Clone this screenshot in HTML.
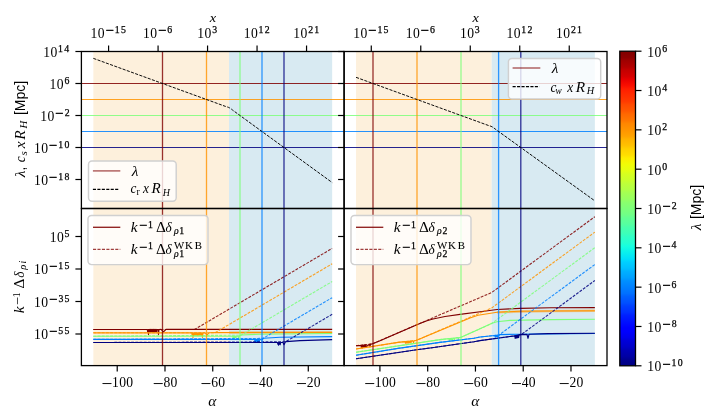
<!DOCTYPE html>
<html><head><meta charset="utf-8"><style>
html,body{margin:0;padding:0;background:#fff;}
svg{display:block;}
</style></head><body>
<svg width="715" height="420" viewBox="0 0 715 420">
<rect width="715" height="420" fill="#fff"/>
<rect x="93.34" y="51.5" width="135.65" height="157" fill="rgb(253,240,220)"/>
<rect x="228.99" y="51.5" width="103.17" height="157" fill="rgb(216,234,242)"/>
<rect x="93.34" y="208.5" width="135.65" height="157.1" fill="rgb(253,240,220)"/>
<rect x="228.99" y="208.5" width="103.17" height="157.1" fill="rgb(216,234,242)"/>
<rect x="356.04" y="51.5" width="135.65" height="157" fill="rgb(253,240,220)"/>
<rect x="491.69" y="51.5" width="103.17" height="157" fill="rgb(216,234,242)"/>
<rect x="356.04" y="208.5" width="135.65" height="157.1" fill="rgb(253,240,220)"/>
<rect x="491.69" y="208.5" width="103.17" height="157.1" fill="rgb(216,234,242)"/>
<line x1="81.4" y1="83.5" x2="607" y2="83.5" stroke="rgb(128,0,0)" stroke-width="1.2" stroke-opacity="0.85"/>
<line x1="81.4" y1="99.5" x2="607" y2="99.5" stroke="rgb(255,148,0)" stroke-width="1.2" stroke-opacity="0.85"/>
<line x1="81.4" y1="115.5" x2="607" y2="115.5" stroke="rgb(125,255,122)" stroke-width="1.2" stroke-opacity="0.85"/>
<line x1="81.4" y1="131.5" x2="607" y2="131.5" stroke="rgb(0,128,255)" stroke-width="1.2" stroke-opacity="0.85"/>
<line x1="81.4" y1="147.5" x2="607" y2="147.5" stroke="rgb(0,0,128)" stroke-width="1.2" stroke-opacity="0.85"/>
<polyline points="93.34,329.5 147.3,329.45 147.6,331.75 147.9,329.45 148,329.45 148.2,331.75 148.5,334.45 148.5,329.45 148.8,331.75 149,329.45 149.1,329.45 149.4,331.75 149.7,329.45 150,331.75 150.3,329.45 150.6,331.75 150.9,329.45 151.2,331.75 151.5,329.45 151.8,331.75 152.1,329.45 152.4,331.75 152.7,329.45 153,331.75 153.3,329.45 153.6,331.75 153.9,329.45 154.2,331.75 154.5,329.45 154.8,331.75 155.1,329.45 155.4,331.75 155.7,329.45 156,331.75 156.3,329.45 156.6,331.75 156.9,329.45 158,329.45 158.5,334.45 159,329.45 161,329.44 163.5,331.94 166,329.44 332.16,329.3" fill="none" stroke="rgb(128,0,0)" stroke-width="1.15" stroke-linejoin="round" />
<polyline points="93.34,332.8 191.8,332.8 192.1,335.1 192.4,332.8 192.5,332.8 192.7,335.1 193,337.6 193,332.8 193.3,335.1 193.5,332.8 193.6,332.8 193.9,335.1 194.2,332.8 194.5,335.1 194.8,332.8 195.1,335.1 195.4,332.8 195.7,335.1 196,332.8 196.3,335.1 196.6,332.8 196.9,335.1 197.2,332.8 197.5,335.1 197.8,332.8 198.1,335.1 198.4,332.8 198.7,335.1 199,332.8 199.3,335.1 199.6,332.8 199.9,335.1 200.2,332.8 200.5,335.1 200.8,332.8 201.1,335.1 201.4,332.8 201.7,335.1 202,332.8 202,332.8 202.5,337.4 203,332.8 205,332.8 207,334.8 209,332.8 209,332.8 216,332.6 332.16,332.4" fill="none" stroke="rgb(255,148,0)" stroke-width="1.15" stroke-linejoin="round" />
<polyline points="229,332.6 332.16,332.4" fill="none" stroke="rgb(255,148,0)" stroke-width="2.4" stroke-linejoin="round" stroke-opacity="0.45"/>
<polyline points="93.34,336.2 232.7,336.2 233,337.5 233.3,336.2 233.5,336.2 233.6,337.5 233.9,336.2 234,338.4 234.2,337.5 234.5,336.2 234.5,336.2 234.8,337.5 235.1,336.2 235.4,337.5 235.7,336.2 236,337.5 236.3,336.2 237,336.2 238,336.2 238.5,337.5 240,335.4 241,335 260,334.2 332.16,333.5" fill="none" stroke="rgb(125,255,122)" stroke-width="1.15" stroke-linejoin="round" />
<polyline points="93.34,339.4 254.6,339.4 254.9,341.8 255,339.4 255.2,339.4 255.5,342.4 255.5,341.8 255.8,339.4 256,339.4 256.1,341.8 256.4,339.4 256.7,341.8 257,339.4 257.3,341.8 257.6,339.4 257.9,341.8 258.2,339.4 258.5,341.8 258.8,339.4 259.1,341.8 260,339.4 260.5,339.23 262,340.21 263.5,338.2 263.5,338.2 280,337.3 332.16,336.6" fill="none" stroke="rgb(0,128,255)" stroke-width="1.15" stroke-linejoin="round" />
<polyline points="93.34,342.5 277.5,342.5 277.8,344.1 278,342.5 278.1,342.5 278.4,344.1 278.5,345.1 278.7,342.5 279,342.5 279,344.1 279.3,342.5 279.6,344.1 279.7,342.5 279.9,342.5 280.2,344.7 280.2,344.1 280.7,342.5 282.5,342.5 283,342.5 284,344.7 285.5,341.75 286,341.6 300,340.6 332.16,339.6" fill="none" stroke="rgb(0,0,128)" stroke-width="1.15" stroke-linejoin="round" />
<polyline points="93.34,329.5 194.5,329.5 332.16,248.42" fill="none" stroke="rgb(128,0,0)" stroke-width="1.1" stroke-linejoin="round" stroke-dasharray="2.9,1.3" stroke-opacity="0.85"/>
<polyline points="93.34,332.8 215,332.8 332.16,263.79" fill="none" stroke="rgb(255,148,0)" stroke-width="1.1" stroke-linejoin="round" stroke-dasharray="2.9,1.3" stroke-opacity="0.85"/>
<polyline points="93.34,336.2 241,335.2 332.16,281.51" fill="none" stroke="rgb(125,255,122)" stroke-width="1.1" stroke-linejoin="round" stroke-dasharray="2.9,1.3" stroke-opacity="0.85"/>
<polyline points="93.34,339.4 263,338.4 332.16,297.66" fill="none" stroke="rgb(0,128,255)" stroke-width="1.1" stroke-linejoin="round" stroke-dasharray="2.9,1.3" stroke-opacity="0.85"/>
<polyline points="93.34,342.5 285.5,341.8 332.16,314.32" fill="none" stroke="rgb(0,0,128)" stroke-width="1.1" stroke-linejoin="round" stroke-dasharray="2.9,1.3" stroke-opacity="0.85"/>
<polyline points="356.04,345.7 361,345.4 361.1,345.39 361.4,347.35 361.7,345.31 362,345.27 362,347.27 362.3,345.23 362.5,347.71 362.6,347.2 362.9,345.16 363,345.15 363.2,347.12 363.5,345.08 363.8,347.04 364.1,345.01 364.4,346.97 364.7,344.93 365,346.89 365.3,344.85 365.6,346.81 365.9,344.78 366.2,346.74 369.5,344.32 370,346.75 370.5,344.19 372,344 380,340.7 421,323 427,320.7 433,319 445,316.5 460,314.4 486,311 497,309.5 520,308.4 551,307.8 594.86,307.6" fill="none" stroke="rgb(128,0,0)" stroke-width="1.15" stroke-linejoin="round" />
<polyline points="356.04,349 398,342.4 405,341.6 405.1,341.59 405.4,343.16 405.7,341.53 406,343.1 406.3,341.47 406.6,343.04 406.9,341.41 407.2,342.98 407.5,341.35 407.8,342.92 408.1,341.29 408.4,342.86 408.7,341.23 409,342.8 409.3,341.17 409.6,342.74 410.5,341.05 411,342.8 411.5,340.95 413,340.8 413.5,342.55 414,340.7 416,340.5 470,318 478,315.3 486,314 497,312.2 520,311.3 551,311 594.86,310.7" fill="none" stroke="rgb(255,148,0)" stroke-width="1.15" stroke-linejoin="round" />
<polyline points="497,312.4 520,311.5 551,311.1 594.86,310.8" fill="none" stroke="rgb(255,148,0)" stroke-width="2.4" stroke-linejoin="round" stroke-opacity="0.45"/>
<polyline points="356.04,352.2 440,339.6 449,338.6 449,338.6 449.3,340.07 449.6,338.54 449.9,340 450.2,338.47 450.5,339.94 450.8,338.41 451.1,339.87 451.4,338.34 451.7,339.81 452,338.28 452.3,339.74 454,338.06 454.5,339.6 455,337.95 458,337.62 458.5,339.17 459,337.52 461,337.3 474,331.4 492,323.3 497,321.8 510,320.4 551,319.6 594.86,319.3" fill="none" stroke="rgb(125,255,122)" stroke-width="1.15" stroke-linejoin="round" />
<polyline points="356.04,355.2 398,348.4 440,342.4 474,338.2 480,337 494.8,335.52 495,335.5 495.1,336.98 495.4,335.43 495.7,336.87 496,335.32 496.3,336.77 496.6,335.21 496.9,336.66 497.2,335.1 497.5,336.55 500,334.6 520,334.2 548,333.9 594.86,333.5" fill="none" stroke="rgb(0,128,255)" stroke-width="1.15" stroke-linejoin="round" />
<polyline points="356.04,358.8 415,350 432,347.7 474,341.7 480,340.6 514.8,335.83 515,335.8 515.1,338.28 515.4,335.7 515.7,338.13 516,335.56 516.3,337.99 516.6,335.42 516.9,337.84 517.2,335.27 517.5,337.7 517.8,335.13 518.1,337.56 518.4,334.98 518.7,337.41 519,334.84 520,334.6 527,334.35 528,338.31 529,334.28 548,333.6 594.86,333.3" fill="none" stroke="rgb(0,0,128)" stroke-width="1.15" stroke-linejoin="round" />
<polyline points="356.04,345.7 372,344 491.69,292.53 594.86,216.7" fill="none" stroke="rgb(128,0,0)" stroke-width="1.1" stroke-linejoin="round" stroke-dasharray="2.9,1.3" stroke-opacity="0.85"/>
<polyline points="356.04,349 398,342.4 416,340.5 491.69,307.95 594.86,232.12" fill="none" stroke="rgb(255,148,0)" stroke-width="1.1" stroke-linejoin="round" stroke-dasharray="2.9,1.3" stroke-opacity="0.85"/>
<polyline points="356.04,352.2 440,339.6 461,337.3 491.69,323.49 594.86,247.66" fill="none" stroke="rgb(125,255,122)" stroke-width="1.1" stroke-linejoin="round" stroke-dasharray="2.9,1.3" stroke-opacity="0.85"/>
<polyline points="356.04,355.2 398,348.4 440,342.4 474,338.2 480,337 499,335 594.86,264.54" fill="none" stroke="rgb(0,128,255)" stroke-width="1.1" stroke-linejoin="round" stroke-dasharray="2.9,1.3" stroke-opacity="0.85"/>
<polyline points="356.04,358.8 415,350 432,347.7 474,341.7 480,340.6 515,335.8 521,334.8 594.86,280.51" fill="none" stroke="rgb(0,0,128)" stroke-width="1.1" stroke-linejoin="round" stroke-dasharray="2.9,1.3" stroke-opacity="0.85"/>
<line x1="162.5" y1="51.5" x2="162.5" y2="365.6" stroke="rgb(128,0,0)" stroke-width="1.3" stroke-opacity="0.8"/>
<line x1="373" y1="51.5" x2="373" y2="365.6" stroke="rgb(128,0,0)" stroke-width="1.3" stroke-opacity="0.8"/>
<line x1="206.5" y1="51.5" x2="206.5" y2="365.6" stroke="rgb(255,148,0)" stroke-width="1.3" stroke-opacity="0.8"/>
<line x1="417" y1="51.5" x2="417" y2="365.6" stroke="rgb(255,148,0)" stroke-width="1.3" stroke-opacity="0.8"/>
<line x1="240" y1="51.5" x2="240" y2="365.6" stroke="rgb(125,255,122)" stroke-width="1.3" stroke-opacity="0.8"/>
<line x1="461" y1="51.5" x2="461" y2="365.6" stroke="rgb(125,255,122)" stroke-width="1.3" stroke-opacity="0.8"/>
<line x1="262" y1="51.5" x2="262" y2="365.6" stroke="rgb(0,128,255)" stroke-width="1.3" stroke-opacity="0.8"/>
<line x1="498.6" y1="51.5" x2="498.6" y2="365.6" stroke="rgb(0,128,255)" stroke-width="1.3" stroke-opacity="0.8"/>
<line x1="284" y1="51.5" x2="284" y2="365.6" stroke="rgb(0,0,128)" stroke-width="1.3" stroke-opacity="0.8"/>
<line x1="520.8" y1="51.5" x2="520.8" y2="365.6" stroke="rgb(0,0,128)" stroke-width="1.3" stroke-opacity="0.8"/>
<polyline points="93.34,58.35 225.5,106.41 226.5,106.73 227.5,107.02 228.5,107.38 229.5,107.86 230.5,108.48 231.5,109.2 232.5,110 233.5,110.77 332.16,182.53" fill="none" stroke="#000" stroke-width="0.95" stroke-linejoin="round" stroke-dasharray="3.1,1.35"/>
<polyline points="356.04,77.33 488.08,125.35 489.08,125.67 490.08,125.96 491.08,126.33 492.08,126.8 493.08,127.41 494.08,128.13 495.08,128.92 496.08,129.69 594.86,200.88" fill="none" stroke="#000" stroke-width="0.95" stroke-linejoin="round" stroke-dasharray="3.1,1.35"/>
<rect x="88.5" y="161" width="87.7" height="40.2" rx="3.5" ry="3.5" fill="#fff" fill-opacity="0.8" stroke="#d0d0d0" stroke-width="1.45"/>
<line x1="92.9" y1="170.9" x2="120.3" y2="170.9" stroke="rgb(128,0,0)" stroke-width="1.4" stroke-opacity="0.65"/>
<line x1="92.9" y1="189.4" x2="119.4" y2="189.4" stroke="#000" stroke-width="1.3" stroke-dasharray="3.1,1.35"/>
<text transform="translate(134.75,175.7) scale(1.1,1)" x="-2.69" font-family="'Liberation Serif', serif" font-size="14" font-style="italic" fill="#000">λ</text>
<text transform="translate(133.55,193.3) scale(0.95,1)" x="-3.25" font-family="'Liberation Serif', serif" font-size="14" font-style="italic" fill="#000">c</text>
<text x="136.61" y="195.3" font-family="'Liberation Serif', serif" font-size="9.8" fill="#000">r</text>
<text transform="translate(145.9,193.3) scale(0.96,1)" x="-2.97" font-family="'Liberation Serif', serif" font-size="14" font-style="italic" fill="#000">x</text>
<text transform="translate(156,193.3) scale(1.08,1)" x="-4.12" font-family="'Liberation Serif', serif" font-size="14" font-style="italic" fill="#000">R</text>
<text transform="translate(166.5,195.8) scale(1.02,1)" x="-3.71" font-family="'Liberation Serif', serif" font-size="9.8" font-style="italic" fill="#000">H</text>
<rect x="508.4" y="58.4" width="92.3" height="40.6" rx="3.5" ry="3.5" fill="#fff" fill-opacity="0.8" stroke="#d0d0d0" stroke-width="1.45"/>
<line x1="512.6" y1="68" x2="540.3" y2="68" stroke="rgb(128,0,0)" stroke-width="1.4" stroke-opacity="0.65"/>
<line x1="512.6" y1="86.6" x2="539.4" y2="86.6" stroke="#000" stroke-width="1.3" stroke-dasharray="3.1,1.35"/>
<text transform="translate(554.6,73.1) scale(1.1,1)" x="-2.69" font-family="'Liberation Serif', serif" font-size="14" font-style="italic" fill="#000">λ</text>
<text transform="translate(553.5,91.9) scale(0.95,1)" x="-3.25" font-family="'Liberation Serif', serif" font-size="14" font-style="italic" fill="#000">c</text>
<text transform="translate(558.75,94.3) scale(0.95,1)" x="-3.35" font-family="'Liberation Serif', serif" font-size="9.8" font-style="italic" fill="#000">w</text>
<text transform="translate(570.2,91.9) scale(0.96,1)" x="-2.97" font-family="'Liberation Serif', serif" font-size="14" font-style="italic" fill="#000">x</text>
<text transform="translate(580.3,91.9) scale(1.1,1)" x="-4.12" font-family="'Liberation Serif', serif" font-size="14" font-style="italic" fill="#000">R</text>
<text transform="translate(590.75,94.4) scale(1.05,1)" x="-3.71" font-family="'Liberation Serif', serif" font-size="9.8" font-style="italic" fill="#000">H</text>
<rect x="88" y="215.4" width="120" height="49.2" rx="3.5" ry="3.5" fill="#fff" fill-opacity="0.8" stroke="#d0d0d0" stroke-width="1.45"/>
<line x1="93" y1="227.3" x2="120.3" y2="227.3" stroke="rgb(128,0,0)" stroke-width="1.4" stroke-opacity="0.85"/>
<line x1="93" y1="249.3" x2="120.3" y2="249.3" stroke="rgb(128,0,0)" stroke-width="1.25" stroke-dasharray="3.1,1.35" stroke-opacity="0.75"/>
<text transform="translate(134.55,231.9) scale(1.1,1)" x="-3.41" font-family="'Liberation Serif', serif" font-size="14" font-style="italic" fill="#000">k</text>
<text x="138.93" y="229.65" font-family="'Liberation Serif', serif" font-size="14.6" fill="#000" stroke="#000" stroke-width="0.3">−</text>
<text x="148.11" y="227.5" font-family="'Liberation Serif', serif" font-size="9.8" fill="#000" stroke="#000" stroke-width="0.25">1</text>
<text transform="translate(160.85,231.9) scale(1.1,1)" x="-4.5" font-family="'Liberation Serif', serif" font-size="14" fill="#000">Δ</text>
<text transform="translate(168.8,231.9) scale(0.95,1)" x="-3.55" font-family="'Liberation Serif', serif" font-size="14" font-style="italic" fill="#000">δ</text>
<text transform="translate(175.95,233.5) scale(0.99,1)" x="-2.08" font-family="'Liberation Serif', serif" font-size="9.8" font-style="italic" fill="#000" stroke="#000" stroke-width="0.2">ρ</text>
<text x="179.36" y="233.5" font-family="'Liberation Serif', serif" font-size="9.8" fill="#000" stroke="#000" stroke-width="0.25">1</text>
<text transform="translate(134.55,253.8) scale(1.1,1)" x="-3.41" font-family="'Liberation Serif', serif" font-size="14" font-style="italic" fill="#000">k</text>
<text x="138.93" y="251.55" font-family="'Liberation Serif', serif" font-size="14.6" fill="#000" stroke="#000" stroke-width="0.3">−</text>
<text x="148.11" y="249.4" font-family="'Liberation Serif', serif" font-size="9.8" fill="#000" stroke="#000" stroke-width="0.25">1</text>
<text transform="translate(160.85,253.8) scale(1.1,1)" x="-4.5" font-family="'Liberation Serif', serif" font-size="14" fill="#000">Δ</text>
<text transform="translate(168.8,253.8) scale(0.95,1)" x="-3.55" font-family="'Liberation Serif', serif" font-size="14" font-style="italic" fill="#000">δ</text>
<text x="173.91 184.9 194.81" y="248.9" font-family="'Liberation Serif', serif" font-size="10.8" fill="#000" stroke="#000" stroke-width="0.1">WKB</text>
<text transform="translate(175.95,257) scale(0.99,1)" x="-2.08" font-family="'Liberation Serif', serif" font-size="9.8" font-style="italic" fill="#000" stroke="#000" stroke-width="0.2">ρ</text>
<text x="179.36" y="257" font-family="'Liberation Serif', serif" font-size="9.8" fill="#000" stroke="#000" stroke-width="0.25">1</text>
<rect x="351" y="215.4" width="120" height="49.2" rx="3.5" ry="3.5" fill="#fff" fill-opacity="0.8" stroke="#d0d0d0" stroke-width="1.45"/>
<line x1="356" y1="227.3" x2="383.3" y2="227.3" stroke="rgb(128,0,0)" stroke-width="1.4" stroke-opacity="0.85"/>
<line x1="356" y1="249.3" x2="383.3" y2="249.3" stroke="rgb(128,0,0)" stroke-width="1.25" stroke-dasharray="3.1,1.35" stroke-opacity="0.75"/>
<text transform="translate(397.55,231.9) scale(1.1,1)" x="-3.41" font-family="'Liberation Serif', serif" font-size="14" font-style="italic" fill="#000">k</text>
<text x="401.93" y="229.65" font-family="'Liberation Serif', serif" font-size="14.6" fill="#000" stroke="#000" stroke-width="0.3">−</text>
<text x="411.11" y="227.5" font-family="'Liberation Serif', serif" font-size="9.8" fill="#000" stroke="#000" stroke-width="0.25">1</text>
<text transform="translate(423.85,231.9) scale(1.1,1)" x="-4.5" font-family="'Liberation Serif', serif" font-size="14" fill="#000">Δ</text>
<text transform="translate(431.8,231.9) scale(0.95,1)" x="-3.55" font-family="'Liberation Serif', serif" font-size="14" font-style="italic" fill="#000">δ</text>
<text transform="translate(438.95,233.5) scale(0.99,1)" x="-2.08" font-family="'Liberation Serif', serif" font-size="9.8" font-style="italic" fill="#000" stroke="#000" stroke-width="0.2">ρ</text>
<text x="442.56" y="233.5" font-family="'Liberation Serif', serif" font-size="9.8" fill="#000" stroke="#000" stroke-width="0.25">2</text>
<text transform="translate(397.55,253.8) scale(1.1,1)" x="-3.41" font-family="'Liberation Serif', serif" font-size="14" font-style="italic" fill="#000">k</text>
<text x="401.93" y="251.55" font-family="'Liberation Serif', serif" font-size="14.6" fill="#000" stroke="#000" stroke-width="0.3">−</text>
<text x="411.11" y="249.4" font-family="'Liberation Serif', serif" font-size="9.8" fill="#000" stroke="#000" stroke-width="0.25">1</text>
<text transform="translate(423.85,253.8) scale(1.1,1)" x="-4.5" font-family="'Liberation Serif', serif" font-size="14" fill="#000">Δ</text>
<text transform="translate(431.8,253.8) scale(0.95,1)" x="-3.55" font-family="'Liberation Serif', serif" font-size="14" font-style="italic" fill="#000">δ</text>
<text x="436.91 447.9 457.81" y="248.9" font-family="'Liberation Serif', serif" font-size="10.8" fill="#000" stroke="#000" stroke-width="0.1">WKB</text>
<text transform="translate(438.95,257) scale(0.99,1)" x="-2.08" font-family="'Liberation Serif', serif" font-size="9.8" font-style="italic" fill="#000" stroke="#000" stroke-width="0.2">ρ</text>
<text x="442.56" y="257" font-family="'Liberation Serif', serif" font-size="9.8" fill="#000" stroke="#000" stroke-width="0.25">2</text>
<rect x="81.4" y="51.5" width="262.7" height="157" fill="none" stroke="#000" stroke-width="1.3"/>
<rect x="81.4" y="208.5" width="262.7" height="157.1" fill="none" stroke="#000" stroke-width="1.3"/>
<rect x="344.1" y="51.5" width="262.9" height="157" fill="none" stroke="#000" stroke-width="1.3"/>
<rect x="344.1" y="208.5" width="262.9" height="157.1" fill="none" stroke="#000" stroke-width="1.3"/>
<line x1="108.58" y1="45.5" x2="108.58" y2="51.5" stroke="#000" stroke-width="1.2" />
<text x="90.53 97.77" y="37.6" font-family="'Liberation Serif', serif" font-size="13.6" fill="#000">10</text>
<text x="105.39" y="34.85" font-family="'Liberation Serif', serif" font-size="14.6" fill="#000" stroke="#000" stroke-width="0.35">−</text>
<text x="114.73 120.92" y="32.6" font-family="'Liberation Serif', serif" font-size="9.8" fill="#000" stroke="#000" stroke-width="0.25">15</text>
<line x1="158.07" y1="45.5" x2="158.07" y2="51.5" stroke="#000" stroke-width="1.2" />
<text x="143.03 150.27" y="37.6" font-family="'Liberation Serif', serif" font-size="13.6" fill="#000">10</text>
<text x="157.9" y="34.85" font-family="'Liberation Serif', serif" font-size="14.6" fill="#000" stroke="#000" stroke-width="0.35">−</text>
<text x="167.31" y="32.6" font-family="'Liberation Serif', serif" font-size="9.8" fill="#000" stroke="#000" stroke-width="0.25">6</text>
<line x1="207.56" y1="45.5" x2="207.56" y2="51.5" stroke="#000" stroke-width="1.2" />
<text x="197.28 204.52" y="37.6" font-family="'Liberation Serif', serif" font-size="13.6" fill="#000">10</text>
<text x="212.13" y="32.6" font-family="'Liberation Serif', serif" font-size="9.8" fill="#000" stroke="#000" stroke-width="0.25">3</text>
<line x1="257.05" y1="45.5" x2="257.05" y2="51.5" stroke="#000" stroke-width="1.2" />
<text x="243.73 250.97" y="37.6" font-family="'Liberation Serif', serif" font-size="13.6" fill="#000">10</text>
<text x="258.48 264.82" y="32.6" font-family="'Liberation Serif', serif" font-size="9.8" fill="#000" stroke="#000" stroke-width="0.25">12</text>
<line x1="306.55" y1="45.5" x2="306.55" y2="51.5" stroke="#000" stroke-width="1.2" />
<text x="293.34 300.58" y="37.6" font-family="'Liberation Serif', serif" font-size="13.6" fill="#000">10</text>
<text x="308.29 314.24" y="32.6" font-family="'Liberation Serif', serif" font-size="9.8" fill="#000" stroke="#000" stroke-width="0.25">21</text>
<text transform="translate(212.75,21.6) scale(1.06,1)" x="-2.86" font-family="'Liberation Serif', serif" font-size="13.5" font-style="italic" fill="#000">x</text>
<line x1="117.22" y1="365.6" x2="117.22" y2="371.6" stroke="#000" stroke-width="1.2" />
<text x="101.51" y="390.04" font-family="'Liberation Serif', serif" font-size="19.4" fill="#000">−</text>
<text x="112 119.24 126.29" y="387.2" font-family="'Liberation Serif', serif" font-size="13.6" fill="#000">100</text>
<line x1="164.99" y1="365.6" x2="164.99" y2="371.6" stroke="#000" stroke-width="1.2" />
<text x="152.8" y="390.04" font-family="'Liberation Serif', serif" font-size="19.4" fill="#000">−</text>
<text x="163.48 170.53" y="387.2" font-family="'Liberation Serif', serif" font-size="13.6" fill="#000">80</text>
<line x1="212.75" y1="365.6" x2="212.75" y2="371.6" stroke="#000" stroke-width="1.2" />
<text x="200.56" y="390.04" font-family="'Liberation Serif', serif" font-size="19.4" fill="#000">−</text>
<text x="211.15 218.29" y="387.2" font-family="'Liberation Serif', serif" font-size="13.6" fill="#000">60</text>
<line x1="260.51" y1="365.6" x2="260.51" y2="371.6" stroke="#000" stroke-width="1.2" />
<text x="248.33" y="390.04" font-family="'Liberation Serif', serif" font-size="19.4" fill="#000">−</text>
<text x="258.98 266.06" y="387.2" font-family="'Liberation Serif', serif" font-size="13.6" fill="#000">40</text>
<line x1="308.28" y1="365.6" x2="308.28" y2="371.6" stroke="#000" stroke-width="1.2" />
<text x="296.09" y="390.04" font-family="'Liberation Serif', serif" font-size="19.4" fill="#000">−</text>
<text x="306.85 313.82" y="387.2" font-family="'Liberation Serif', serif" font-size="13.6" fill="#000">20</text>
<text transform="translate(212.75,405.5) scale(1.1,1)" x="-4" font-family="'Liberation Serif', serif" font-size="14" font-style="italic" fill="#000">α</text>
<line x1="75.4" y1="51.5" x2="81.4" y2="51.5" stroke="#000" stroke-width="1.2" />
<text x="43.23 50.47" y="56.7" font-family="'Liberation Serif', serif" font-size="13.6" fill="#000">10</text>
<text x="57.99 64.25" y="51.7" font-family="'Liberation Serif', serif" font-size="9.8" fill="#000" stroke="#000" stroke-width="0.25">14</text>
<line x1="75.4" y1="83.5" x2="81.4" y2="83.5" stroke="#000" stroke-width="1.2" />
<text x="49.57 56.81" y="88.7" font-family="'Liberation Serif', serif" font-size="13.6" fill="#000">10</text>
<text x="64.39" y="83.7" font-family="'Liberation Serif', serif" font-size="9.8" fill="#000" stroke="#000" stroke-width="0.25">6</text>
<line x1="75.4" y1="115.5" x2="81.4" y2="115.5" stroke="#000" stroke-width="1.2" />
<text x="40.25 47.49" y="120.7" font-family="'Liberation Serif', serif" font-size="13.6" fill="#000">10</text>
<text x="55.11" y="117.95" font-family="'Liberation Serif', serif" font-size="14.6" fill="#000" stroke="#000" stroke-width="0.35">−</text>
<text x="64.64" y="115.7" font-family="'Liberation Serif', serif" font-size="9.8" fill="#000" stroke="#000" stroke-width="0.25">2</text>
<line x1="75.4" y1="147.5" x2="81.4" y2="147.5" stroke="#000" stroke-width="1.2" />
<text x="33.98 41.22" y="152.7" font-family="'Liberation Serif', serif" font-size="13.6" fill="#000">10</text>
<text x="48.85" y="149.95" font-family="'Liberation Serif', serif" font-size="14.6" fill="#000" stroke="#000" stroke-width="0.35">−</text>
<text x="58.19 64.47" y="147.7" font-family="'Liberation Serif', serif" font-size="9.8" fill="#000" stroke="#000" stroke-width="0.25">10</text>
<line x1="75.4" y1="179.5" x2="81.4" y2="179.5" stroke="#000" stroke-width="1.2" />
<text x="33.98 41.22" y="184.7" font-family="'Liberation Serif', serif" font-size="13.6" fill="#000">10</text>
<text x="48.85" y="181.95" font-family="'Liberation Serif', serif" font-size="14.6" fill="#000" stroke="#000" stroke-width="0.35">−</text>
<text x="58.19 64.47" y="179.7" font-family="'Liberation Serif', serif" font-size="9.8" fill="#000" stroke="#000" stroke-width="0.25">18</text>
<line x1="75.4" y1="236.5" x2="81.4" y2="236.5" stroke="#000" stroke-width="1.2" />
<text x="49.69 56.93" y="241.6" font-family="'Liberation Serif', serif" font-size="13.6" fill="#000">10</text>
<text x="64.48" y="236.6" font-family="'Liberation Serif', serif" font-size="9.8" fill="#000" stroke="#000" stroke-width="0.25">5</text>
<line x1="75.4" y1="269" x2="81.4" y2="269" stroke="#000" stroke-width="1.2" />
<text x="34.09 41.33" y="274.1" font-family="'Liberation Serif', serif" font-size="13.6" fill="#000">10</text>
<text x="48.95" y="271.35" font-family="'Liberation Serif', serif" font-size="14.6" fill="#000" stroke="#000" stroke-width="0.35">−</text>
<text x="58.29 64.48" y="269.1" font-family="'Liberation Serif', serif" font-size="9.8" fill="#000" stroke="#000" stroke-width="0.25">15</text>
<line x1="75.4" y1="301.5" x2="81.4" y2="301.5" stroke="#000" stroke-width="1.2" />
<text x="34.09 41.33" y="306.6" font-family="'Liberation Serif', serif" font-size="13.6" fill="#000">10</text>
<text x="48.95" y="303.85" font-family="'Liberation Serif', serif" font-size="14.6" fill="#000" stroke="#000" stroke-width="0.35">−</text>
<text x="58.38 64.48" y="301.6" font-family="'Liberation Serif', serif" font-size="9.8" fill="#000" stroke="#000" stroke-width="0.25">35</text>
<line x1="75.4" y1="334" x2="81.4" y2="334" stroke="#000" stroke-width="1.2" />
<text x="34.09 41.33" y="339.1" font-family="'Liberation Serif', serif" font-size="13.6" fill="#000">10</text>
<text x="48.95" y="336.35" font-family="'Liberation Serif', serif" font-size="14.6" fill="#000" stroke="#000" stroke-width="0.35">−</text>
<text x="58.33 64.48" y="334.1" font-family="'Liberation Serif', serif" font-size="9.8" fill="#000" stroke="#000" stroke-width="0.25">55</text>
<line x1="371.28" y1="45.5" x2="371.28" y2="51.5" stroke="#000" stroke-width="1.2" />
<text x="353.23 360.47" y="37.6" font-family="'Liberation Serif', serif" font-size="13.6" fill="#000">10</text>
<text x="368.09" y="34.85" font-family="'Liberation Serif', serif" font-size="14.6" fill="#000" stroke="#000" stroke-width="0.35">−</text>
<text x="377.43 383.62" y="32.6" font-family="'Liberation Serif', serif" font-size="9.8" fill="#000" stroke="#000" stroke-width="0.25">15</text>
<line x1="420.77" y1="45.5" x2="420.77" y2="51.5" stroke="#000" stroke-width="1.2" />
<text x="405.73 412.97" y="37.6" font-family="'Liberation Serif', serif" font-size="13.6" fill="#000">10</text>
<text x="420.6" y="34.85" font-family="'Liberation Serif', serif" font-size="14.6" fill="#000" stroke="#000" stroke-width="0.35">−</text>
<text x="430.01" y="32.6" font-family="'Liberation Serif', serif" font-size="9.8" fill="#000" stroke="#000" stroke-width="0.25">6</text>
<line x1="470.26" y1="45.5" x2="470.26" y2="51.5" stroke="#000" stroke-width="1.2" />
<text x="459.98 467.22" y="37.6" font-family="'Liberation Serif', serif" font-size="13.6" fill="#000">10</text>
<text x="474.83" y="32.6" font-family="'Liberation Serif', serif" font-size="9.8" fill="#000" stroke="#000" stroke-width="0.25">3</text>
<line x1="519.75" y1="45.5" x2="519.75" y2="51.5" stroke="#000" stroke-width="1.2" />
<text x="506.43 513.67" y="37.6" font-family="'Liberation Serif', serif" font-size="13.6" fill="#000">10</text>
<text x="521.18 527.52" y="32.6" font-family="'Liberation Serif', serif" font-size="9.8" fill="#000" stroke="#000" stroke-width="0.25">12</text>
<line x1="569.25" y1="45.5" x2="569.25" y2="51.5" stroke="#000" stroke-width="1.2" />
<text x="556.04 563.28" y="37.6" font-family="'Liberation Serif', serif" font-size="13.6" fill="#000">10</text>
<text x="570.99 576.94" y="32.6" font-family="'Liberation Serif', serif" font-size="9.8" fill="#000" stroke="#000" stroke-width="0.25">21</text>
<text transform="translate(475.55,21.6) scale(1.06,1)" x="-2.86" font-family="'Liberation Serif', serif" font-size="13.5" font-style="italic" fill="#000">x</text>
<line x1="379.92" y1="365.6" x2="379.92" y2="371.6" stroke="#000" stroke-width="1.2" />
<text x="364.21" y="390.04" font-family="'Liberation Serif', serif" font-size="19.4" fill="#000">−</text>
<text x="374.7 381.94 388.99" y="387.2" font-family="'Liberation Serif', serif" font-size="13.6" fill="#000">100</text>
<line x1="427.69" y1="365.6" x2="427.69" y2="371.6" stroke="#000" stroke-width="1.2" />
<text x="415.5" y="390.04" font-family="'Liberation Serif', serif" font-size="19.4" fill="#000">−</text>
<text x="426.18 433.23" y="387.2" font-family="'Liberation Serif', serif" font-size="13.6" fill="#000">80</text>
<line x1="475.45" y1="365.6" x2="475.45" y2="371.6" stroke="#000" stroke-width="1.2" />
<text x="463.26" y="390.04" font-family="'Liberation Serif', serif" font-size="19.4" fill="#000">−</text>
<text x="473.85 480.99" y="387.2" font-family="'Liberation Serif', serif" font-size="13.6" fill="#000">60</text>
<line x1="523.22" y1="365.6" x2="523.22" y2="371.6" stroke="#000" stroke-width="1.2" />
<text x="511.03" y="390.04" font-family="'Liberation Serif', serif" font-size="19.4" fill="#000">−</text>
<text x="521.68 528.76" y="387.2" font-family="'Liberation Serif', serif" font-size="13.6" fill="#000">40</text>
<line x1="570.98" y1="365.6" x2="570.98" y2="371.6" stroke="#000" stroke-width="1.2" />
<text x="558.79" y="390.04" font-family="'Liberation Serif', serif" font-size="19.4" fill="#000">−</text>
<text x="569.55 576.52" y="387.2" font-family="'Liberation Serif', serif" font-size="13.6" fill="#000">20</text>
<text transform="translate(475.55,405.5) scale(1.1,1)" x="-4" font-family="'Liberation Serif', serif" font-size="14" font-style="italic" fill="#000">α</text>
<line x1="338.1" y1="51.5" x2="344.1" y2="51.5" stroke="#000" stroke-width="1.2" />
<line x1="338.1" y1="83.5" x2="344.1" y2="83.5" stroke="#000" stroke-width="1.2" />
<line x1="338.1" y1="115.5" x2="344.1" y2="115.5" stroke="#000" stroke-width="1.2" />
<line x1="338.1" y1="147.5" x2="344.1" y2="147.5" stroke="#000" stroke-width="1.2" />
<line x1="338.1" y1="179.5" x2="344.1" y2="179.5" stroke="#000" stroke-width="1.2" />
<line x1="338.1" y1="236.5" x2="344.1" y2="236.5" stroke="#000" stroke-width="1.2" />
<line x1="338.1" y1="269" x2="344.1" y2="269" stroke="#000" stroke-width="1.2" />
<line x1="338.1" y1="301.5" x2="344.1" y2="301.5" stroke="#000" stroke-width="1.2" />
<line x1="338.1" y1="334" x2="344.1" y2="334" stroke="#000" stroke-width="1.2" />
<text transform="translate(25.1,0) rotate(-90) translate(-174.35,0) scale(1.1,1)" x="-2.69" font-family="'Liberation Serif', serif" font-size="14" font-style="italic" fill="#000">λ</text>
<text transform="translate(25.1,0) rotate(-90)" x="-170.54" y="0" font-family="'Liberation Sans', sans-serif" font-size="14" fill="#000">,</text>
<text transform="translate(25.1,0) rotate(-90) translate(-159.15,0) scale(0.95,1)" x="-3.25" font-family="'Liberation Serif', serif" font-size="14" font-style="italic" fill="#000">c</text>
<text transform="translate(25.1,0) rotate(-90) translate(-153.45,1.9) scale(1.1,1)" x="-1.82" font-family="'Liberation Serif', serif" font-size="9.8" font-style="italic" fill="#000">s</text>
<text transform="translate(25.1,0) rotate(-90) translate(-145.1,0) scale(1.1,1)" x="-2.97" font-family="'Liberation Serif', serif" font-size="14" font-style="italic" fill="#000">x</text>
<text transform="translate(25.1,0) rotate(-90) translate(-135.2,0) scale(1.1,1)" x="-4.12" font-family="'Liberation Serif', serif" font-size="14" font-style="italic" fill="#000">R</text>
<text transform="translate(25.1,0) rotate(-90) translate(-124.55,1.9) scale(1.1,1)" x="-3.71" font-family="'Liberation Serif', serif" font-size="9.8" font-style="italic" fill="#000">H</text>
<text transform="translate(25.1,0) rotate(-90)" x="-114.99 -111.13 -99.45 -91.66 -84.66" y="0" font-family="'Liberation Sans', sans-serif" font-size="14" fill="#000">[Mpc]</text>
<text transform="translate(23.9,0) rotate(-90) translate(-309.6,0) scale(1.1,1)" x="-3.41" font-family="'Liberation Serif', serif" font-size="14" font-style="italic" fill="#000">k</text>
<text transform="translate(23.9,0) rotate(-90)" x="-305.32" y="-2.25" font-family="'Liberation Serif', serif" font-size="14.6" fill="#000">−</text>
<text transform="translate(23.9,0) rotate(-90)" x="-297.29" y="-4.4" font-family="'Liberation Serif', serif" font-size="9.8" fill="#000">1</text>
<text transform="translate(23.9,0) rotate(-90) translate(-283.5,0) scale(1.1,1)" x="-4.5" font-family="'Liberation Serif', serif" font-size="14" fill="#000">Δ</text>
<text transform="translate(23.9,0) rotate(-90) translate(-274.4,0) scale(0.95,1)" x="-3.55" font-family="'Liberation Serif', serif" font-size="14" font-style="italic" fill="#000">δ</text>
<text transform="translate(23.9,0) rotate(-90) translate(-267.5,1.6) scale(1.07,1)" x="-2.08" font-family="'Liberation Serif', serif" font-size="9.8" font-style="italic" fill="#000">ρ</text>
<text transform="translate(23.9,0) rotate(-90)" x="-263.49" y="1.6" font-family="'Liberation Serif', serif" font-size="9.8" font-style="italic" fill="#000">i</text>
<defs><linearGradient id="jet" x1="0" y1="0" x2="0" y2="1"><stop offset="0" stop-color="rgb(128,0,0)"/><stop offset="0.02" stop-color="rgb(141,0,0)"/><stop offset="0.03" stop-color="rgb(159,0,0)"/><stop offset="0.05" stop-color="rgb(178,0,0)"/><stop offset="0.06" stop-color="rgb(196,0,0)"/><stop offset="0.08" stop-color="rgb(214,0,0)"/><stop offset="0.09" stop-color="rgb(232,0,0)"/><stop offset="0.11" stop-color="rgb(250,15,0)"/><stop offset="0.12" stop-color="rgb(255,30,0)"/><stop offset="0.14" stop-color="rgb(255,45,0)"/><stop offset="0.16" stop-color="rgb(255,59,0)"/><stop offset="0.17" stop-color="rgb(255,74,0)"/><stop offset="0.19" stop-color="rgb(255,89,0)"/><stop offset="0.2" stop-color="rgb(255,104,0)"/><stop offset="0.22" stop-color="rgb(255,119,0)"/><stop offset="0.23" stop-color="rgb(255,134,0)"/><stop offset="0.25" stop-color="rgb(255,148,0)"/><stop offset="0.27" stop-color="rgb(255,163,0)"/><stop offset="0.28" stop-color="rgb(255,178,0)"/><stop offset="0.3" stop-color="rgb(255,193,0)"/><stop offset="0.31" stop-color="rgb(255,208,0)"/><stop offset="0.33" stop-color="rgb(255,222,0)"/><stop offset="0.34" stop-color="rgb(254,237,0)"/><stop offset="0.36" stop-color="rgb(241,252,6)"/><stop offset="0.38" stop-color="rgb(228,255,19)"/><stop offset="0.39" stop-color="rgb(215,255,31)"/><stop offset="0.41" stop-color="rgb(202,255,44)"/><stop offset="0.42" stop-color="rgb(190,255,57)"/><stop offset="0.44" stop-color="rgb(177,255,70)"/><stop offset="0.45" stop-color="rgb(164,255,83)"/><stop offset="0.47" stop-color="rgb(151,255,96)"/><stop offset="0.48" stop-color="rgb(138,255,109)"/><stop offset="0.5" stop-color="rgb(125,255,122)"/><stop offset="0.52" stop-color="rgb(112,255,135)"/><stop offset="0.53" stop-color="rgb(99,255,148)"/><stop offset="0.55" stop-color="rgb(86,255,160)"/><stop offset="0.56" stop-color="rgb(73,255,173)"/><stop offset="0.58" stop-color="rgb(60,255,186)"/><stop offset="0.59" stop-color="rgb(48,255,199)"/><stop offset="0.61" stop-color="rgb(35,255,212)"/><stop offset="0.62" stop-color="rgb(22,255,225)"/><stop offset="0.64" stop-color="rgb(9,240,238)"/><stop offset="0.66" stop-color="rgb(0,224,251)"/><stop offset="0.67" stop-color="rgb(0,208,255)"/><stop offset="0.69" stop-color="rgb(0,192,255)"/><stop offset="0.7" stop-color="rgb(0,176,255)"/><stop offset="0.72" stop-color="rgb(0,160,255)"/><stop offset="0.73" stop-color="rgb(0,144,255)"/><stop offset="0.75" stop-color="rgb(0,128,255)"/><stop offset="0.77" stop-color="rgb(0,112,255)"/><stop offset="0.78" stop-color="rgb(0,96,255)"/><stop offset="0.8" stop-color="rgb(0,80,255)"/><stop offset="0.81" stop-color="rgb(0,64,255)"/><stop offset="0.83" stop-color="rgb(0,48,255)"/><stop offset="0.84" stop-color="rgb(0,32,255)"/><stop offset="0.86" stop-color="rgb(0,16,255)"/><stop offset="0.88" stop-color="rgb(0,0,255)"/><stop offset="0.89" stop-color="rgb(0,0,255)"/><stop offset="0.91" stop-color="rgb(0,0,237)"/><stop offset="0.92" stop-color="rgb(0,0,218)"/><stop offset="0.94" stop-color="rgb(0,0,200)"/><stop offset="0.95" stop-color="rgb(0,0,182)"/><stop offset="0.97" stop-color="rgb(0,0,164)"/><stop offset="0.98" stop-color="rgb(0,0,146)"/><stop offset="1" stop-color="rgb(0,0,128)"/></linearGradient></defs>
<rect x="619.8" y="51.2" width="15.7" height="314.6" fill="url(#jet)" stroke="#000" stroke-width="1.3"/>
<line x1="635.5" y1="51.2" x2="641.5" y2="51.2" stroke="#000" stroke-width="1.2" />
<text x="647.3 654.54" y="56.7" font-family="'Liberation Serif', serif" font-size="13.6" fill="#000">10</text>
<text x="662.13" y="51.7" font-family="'Liberation Serif', serif" font-size="9.8" fill="#000" stroke="#000" stroke-width="0.25">6</text>
<line x1="635.5" y1="90.52" x2="641.5" y2="90.52" stroke="#000" stroke-width="1.2" />
<text x="647.3 654.54" y="96.02" font-family="'Liberation Serif', serif" font-size="13.6" fill="#000">10</text>
<text x="662.17" y="91.02" font-family="'Liberation Serif', serif" font-size="9.8" fill="#000" stroke="#000" stroke-width="0.25">4</text>
<line x1="635.5" y1="129.85" x2="641.5" y2="129.85" stroke="#000" stroke-width="1.2" />
<text x="647.3 654.54" y="135.35" font-family="'Liberation Serif', serif" font-size="13.6" fill="#000">10</text>
<text x="662.25" y="130.35" font-family="'Liberation Serif', serif" font-size="9.8" fill="#000" stroke="#000" stroke-width="0.25">2</text>
<line x1="635.5" y1="169.18" x2="641.5" y2="169.18" stroke="#000" stroke-width="1.2" />
<text x="647.3 654.54" y="174.68" font-family="'Liberation Serif', serif" font-size="13.6" fill="#000">10</text>
<text x="662.19" y="169.68" font-family="'Liberation Serif', serif" font-size="9.8" fill="#000" stroke="#000" stroke-width="0.25">0</text>
<line x1="635.5" y1="208.5" x2="641.5" y2="208.5" stroke="#000" stroke-width="1.2" />
<text x="647.3 654.54" y="214" font-family="'Liberation Serif', serif" font-size="13.6" fill="#000">10</text>
<text x="662.17" y="211.25" font-family="'Liberation Serif', serif" font-size="14.6" fill="#000" stroke="#000" stroke-width="0.35">−</text>
<text x="671.7" y="209" font-family="'Liberation Serif', serif" font-size="9.8" fill="#000" stroke="#000" stroke-width="0.25">2</text>
<line x1="635.5" y1="247.82" x2="641.5" y2="247.82" stroke="#000" stroke-width="1.2" />
<text x="647.3 654.54" y="253.32" font-family="'Liberation Serif', serif" font-size="13.6" fill="#000">10</text>
<text x="662.17" y="250.57" font-family="'Liberation Serif', serif" font-size="14.6" fill="#000" stroke="#000" stroke-width="0.35">−</text>
<text x="671.62" y="248.32" font-family="'Liberation Serif', serif" font-size="9.8" fill="#000" stroke="#000" stroke-width="0.25">4</text>
<line x1="635.5" y1="287.15" x2="641.5" y2="287.15" stroke="#000" stroke-width="1.2" />
<text x="647.3 654.54" y="292.65" font-family="'Liberation Serif', serif" font-size="13.6" fill="#000">10</text>
<text x="662.17" y="289.9" font-family="'Liberation Serif', serif" font-size="14.6" fill="#000" stroke="#000" stroke-width="0.35">−</text>
<text x="671.58" y="287.65" font-family="'Liberation Serif', serif" font-size="9.8" fill="#000" stroke="#000" stroke-width="0.25">6</text>
<line x1="635.5" y1="326.48" x2="641.5" y2="326.48" stroke="#000" stroke-width="1.2" />
<text x="647.3 654.54" y="331.98" font-family="'Liberation Serif', serif" font-size="13.6" fill="#000">10</text>
<text x="662.17" y="329.22" font-family="'Liberation Serif', serif" font-size="14.6" fill="#000" stroke="#000" stroke-width="0.35">−</text>
<text x="671.64" y="326.98" font-family="'Liberation Serif', serif" font-size="9.8" fill="#000" stroke="#000" stroke-width="0.25">8</text>
<line x1="635.5" y1="365.8" x2="641.5" y2="365.8" stroke="#000" stroke-width="1.2" />
<text x="647.3 654.54" y="371.3" font-family="'Liberation Serif', serif" font-size="13.6" fill="#000">10</text>
<text x="662.17" y="368.55" font-family="'Liberation Serif', serif" font-size="14.6" fill="#000" stroke="#000" stroke-width="0.35">−</text>
<text x="671.51 677.79" y="366.3" font-family="'Liberation Serif', serif" font-size="9.8" fill="#000" stroke="#000" stroke-width="0.25">10</text>
<text transform="translate(700.8,0) rotate(-90) translate(-227.4,0) scale(1.1,1)" x="-2.69" font-family="'Liberation Serif', serif" font-size="14" font-style="italic" fill="#000">λ</text>
<text transform="translate(700.8,0) rotate(-90)" x="-218.99 -215.13 -203.45 -195.66 -188.66" y="0" font-family="'Liberation Sans', sans-serif" font-size="14" fill="#000">[Mpc]</text>
</svg></body></html>
